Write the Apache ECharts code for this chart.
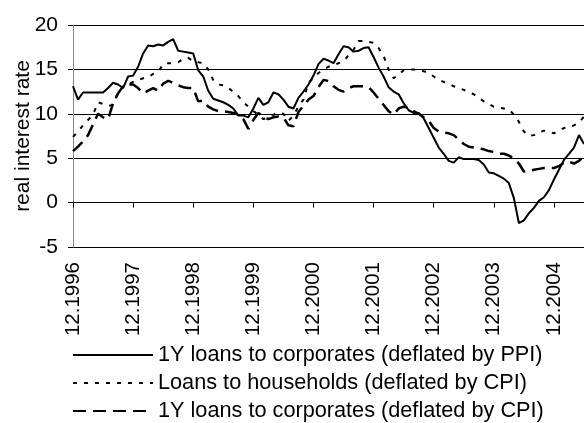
<!DOCTYPE html>
<html>
<head>
<meta charset="utf-8">
<script src="https://cdn.jsdelivr.net/npm/echarts@6/dist/echarts.min.js"></script>
<style>
  html, body { margin: 0; padding: 0; background: #fff; }
  #chart { width: 584px; height: 423px; }
</style>
</head>
<body>
<div id="chart"></div>
<script>
// 月度数据, 12.1996 起
const startYear = 1996;
const startMonth = 12;
const tickLabels = ['12.1996', '12.1997', '12.1998', '12.1999', '12.2000', '12.2001', '12.2002', '12.2003', '12.2004'];

// 1Y loans to corporates (deflated by PPI)
const corpPPI = [
  13.1, 11.6, 12.4, 12.4, 12.4, 12.4, 12.4, 12.9, 13.5, 13.3, 12.9, 14.2,
  14.3, 15.3, 16.8, 17.7, 17.6, 17.8, 17.7, 18.1, 18.4, 17.1, 17.0, 16.9,
  16.8, 14.9, 14.2, 12.6, 11.7, 11.5, 11.3, 11.0, 10.6, 9.8, 9.8, 9.6,
  10.6, 11.8, 11.0, 11.3, 12.4, 12.2, 11.6, 10.8, 10.6, 11.8, 12.5, 13.3,
  14.3, 15.6, 16.2, 16.0, 15.7, 16.7, 17.6, 17.5, 17.0, 17.1, 17.4, 17.5,
  16.4, 15.2, 14.2, 13.0, 12.5, 12.2, 11.2, 10.4, 10.1, 10.1, 9.5, 8.4,
  7.3, 6.2, 5.5, 4.7, 4.5, 5.1, 4.9, 4.9, 4.9, 4.8, 4.3, 3.4,
  3.3, 3.0, 2.7, 2.2, 0.5, -2.3, -2.0, -1.2, -0.6, 0.2, 0.6, 1.4,
  2.6, 3.7, 4.8, 5.5, 6.2, 7.6, 6.6
];
// Loans to households (deflated by CPI)
const houseCPI = [
  7.4, 8.0, 8.7, 9.3, 9.9, 11.3, 11.1, 10.9, 11.0, 12.4, 13.1, 13.3,
  13.6, 13.8, 14.0, 14.1, 14.5, 14.7, 15.6, 15.7, 15.7, 15.8, 16.2, 16.3,
  15.9, 15.8, 15.7, 15.0, 13.8, 13.3, 13.2, 12.9, 12.5, 12.0, 11.3, 10.8,
  10.3, 9.9, 9.4, 9.6, 9.9, 10.1, 10.0, 9.2, 9.8, 10.8, 11.6, 13.5,
  14.0, 14.6, 15.0, 15.3, 15.5, 15.7, 15.9, 16.6, 17.2, 18.2, 18.2, 18.1,
  18.0, 17.4, 16.5, 15.0, 14.0, 14.4, 14.9, 15.0, 15.0, 14.9, 14.8, 14.6,
  14.2, 13.8, 13.6, 13.4, 13.1, 12.9, 12.7, 12.4, 12.2, 11.8, 11.4, 11.1,
  10.8, 10.7, 10.6, 10.5, 9.9, 9.1, 8.0, 7.5, 7.6, 7.9, 8.1, 8.0,
  7.8, 8.1, 8.4, 8.5, 8.7, 9.0, 9.7
];
// 1Y loans to corporates (deflated by CPI)
const corpCPI = [
  5.8, 6.3, 6.9, 7.6, 8.8, 10.0, 9.6, 9.4, 11.2, 12.3, 13.1, 13.3,
  13.3, 12.9, 12.3, 12.6, 12.9, 12.6, 13.4, 13.7, 13.5, 13.2, 13.0, 12.9,
  12.9, 11.4, 11.5, 10.8, 10.5, 10.3, 10.3, 10.2, 10.1, 9.9, 9.4, 8.3,
  9.3, 10.1, 9.7, 9.4, 9.6, 9.7, 9.6, 8.7, 8.6, 10.2, 10.9, 11.6,
  12.0, 13.0, 13.8, 13.7, 13.1, 12.7, 12.5, 12.9, 13.1, 13.1, 13.1, 13.0,
  12.4, 11.7, 11.0, 10.3, 9.9, 10.6, 10.8, 10.7, 10.3, 10.0, 9.6, 9.2,
  8.4, 8.0, 7.9, 7.8, 7.6, 7.1, 6.6, 6.3, 6.2, 6.1, 6.0, 5.8,
  5.7, 5.5, 5.5, 5.3, 5.0, 4.4, 3.5, 3.5, 3.7, 3.8, 3.9, 3.9,
  3.9, 4.1, 4.5, 4.6, 4.4, 4.7, 5.2
];
const seriesNames = [
  '1Y loans to corporates (deflated by PPI)',
  'Loans to households (deflated by CPI)',
  '1Y loans to corporates (deflated by CPI)'
];

// 月份类目
const months = [];
for (let i = 0; i < corpPPI.length; i++) {
  const m = (startMonth - 1 + i) % 12 + 1;
  const y = startYear + Math.floor((startMonth - 1 + i) / 12);
  months.push(m + '.' + y);
}

const font = 'Liberation Sans, Arial, sans-serif';
const chart = echarts.init(document.getElementById('chart'), null, { renderer: 'canvas' });

const option = {
  animation: false,
  backgroundColor: '#fff',
  grid: { left: 73, right: 0, top: 25, bottom: 176, outerBoundsMode: 'none' },
  legend: {
    orient: 'vertical',
    left: 72,
    top: 344,
    itemWidth: 80,
    itemHeight: 14,
    itemGap: 6,
    padding: 0,
    data: seriesNames,
    // 图例只画线, 不画圆点
    itemStyle: { color: 'transparent', borderColor: 'transparent', borderWidth: 0, opacity: 0 },
    textStyle: { fontFamily: font, fontSize: 21.7, color: '#000', lineHeight: 22 }
  },
  xAxis: {
    type: 'category',
    data: months,
    boundaryGap: false,
    axisLine: { lineStyle: { color: '#000', width: 1 } },
    axisTick: {
      length: 5,
      lineStyle: { color: '#000' },
      interval: (idx) => idx % 12 === 0
    },
    axisLabel: {
      rotate: 90,
      margin: 15,
      fontFamily: font,
      fontSize: 20.5,
      color: '#000',
      interval: (idx) => idx % 12 === 0,
      formatter: (v, idx) => tickLabels[idx / 12] || v
    },
    splitLine: { show: false }
  },
  yAxis: {
    type: 'value',
    min: -5,
    max: 20,
    interval: 5,
    name: 'real interest rate',
    nameLocation: 'middle',
    nameRotate: 90,
    nameGap: 39,
    nameMoveOverlap: false,
    nameTextStyle: { fontFamily: font, fontSize: 21, color: '#000' },
    axisLine: { show: true, lineStyle: { color: '#888', width: 1 } },
    axisTick: { show: true, length: 5, lineStyle: { color: '#000' } },
    axisLabel: { margin: 15, fontFamily: font, fontSize: 21, color: '#000' },
    splitLine: { lineStyle: { color: '#000', width: 1 } }
  },
  series: [
    {
      name: seriesNames[0],
      type: 'line',
      data: corpPPI,
      symbol: 'none',
      lineStyle: { color: '#000', width: 2, type: 'solid' },
      itemStyle: { color: '#000' }
    },
    {
      name: seriesNames[1],
      type: 'line',
      data: houseCPI,
      symbol: 'none',
      lineStyle: { color: '#000', width: 2, type: [4, 7] },
      itemStyle: { color: '#000' }
    },
    {
      name: seriesNames[2],
      type: 'line',
      data: corpCPI,
      symbol: 'none',
      lineStyle: { color: '#000', width: 2.5, type: [13, 7] },
      itemStyle: { color: '#000' }
    }
  ]
};

chart.setOption(option);
</script>
</body>
</html>
